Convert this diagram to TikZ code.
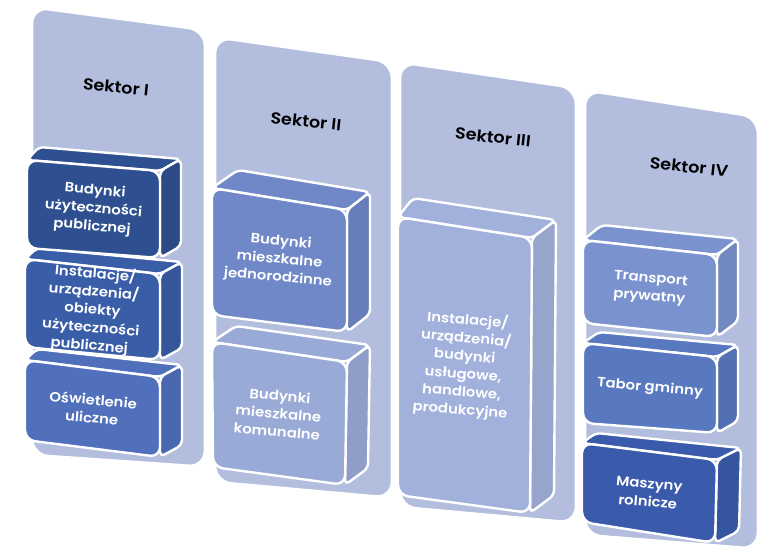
\documentclass[tikz,border=0pt]{standalone}
\usepackage{fontspec}
\setmainfont{Poppins}[BoldFont={Poppins SemiBold}, FakeStretch=1.1]
\usetikzlibrary{calc}
\definecolor{panelc}{HTML}{B3BEDF}
\definecolor{cA}{HTML}{2F5090}
\definecolor{cB}{HTML}{3A5DA8}
\definecolor{cC}{HTML}{5070BC}
\definecolor{cD}{HTML}{7088C8}
\definecolor{cE}{HTML}{9AAAD7}
\definecolor{cF}{HTML}{A2B1DC}
\definecolor{cG}{HTML}{7A92CE}
\definecolor{cH}{HTML}{5878C0}
\definecolor{cI}{HTML}{3A5BAB}
\tikzset{
  panel/.style={draw=white, line width=2.8pt, fill=panelc, rounded corners=16pt, line join=round},
  face/.style={draw=white, line width=2.4pt, rounded corners=5pt, line join=round},
  frontface/.style={draw=white, line width=2.4pt, rounded corners=10pt, line join=round},
  boxtext/.style={text=white, font=\bfseries\fontsize{13.5}{18}\selectfont, align=center, rotate=-5, inner sep=0pt},
  sectext/.style={text=black, font=\bfseries\fontsize{16}{18}\selectfont, rotate=-6, inner sep=0pt}
}
\newcommand{\cubebox}[9]{%
  \path[face, fill=#8] #2 -- ($#2+#6$) -- ($#3+#7$) -- #3 -- cycle;
  \path[face, fill=#8!93!black] #3 -- ($#3+#7$) -- ($#4+#7$) -- #4 -- cycle;
  \path[frontface, fill=#8] #2 -- #3 -- #4 -- #5 -- cycle;
  \node[boxtext] (#1) at ($#2!0.5!#4$) {#9};
}
\begin{document}
\begin{tikzpicture}[x=1pt,y=-1pt]
\path[fill=white, use as bounding box] (0,0) rectangle (762,552);
% panels
\path[panel] (32,7) -- (205,30) -- (205,467) -- (32,455) -- cycle;
\path[panel] (215,37) -- (392,62) -- (392,498) -- (215,482) -- cycle;
\path[panel] (400,62) -- (576,88) -- (576,523) -- (400,507) -- cycle;
\path[panel] (585,90) -- (758,117) -- (758,549) -- (585,535) -- cycle;
% sector titles
\node[sectext] (s1) at (116,87) {Sektor I};
\node[sectext] (s2) at (306,121) {Sektor II};
\node[sectext] (s3) at (493,137) {Sektor III};
\node[sectext] (s4) at (689,167) {Sektor IV};
% column 1
\cubebox{c1c}{(25,360)}{(160,377)}{(160,457)}{(25,440)}{(12,-11)}{(22,-12)}{cC}{Oświetlenie\\uliczne}
\cubebox{c1b}{(25,259)}{(160,274)}{(160,360)}{(25,347)}{(12,-11)}{(22,-12)}{cB}{Instalacje/\\urządzenia/\\obiekty\\użyteczności\\publicznej}
\cubebox{c1a}{(27,160)}{(160,171)}{(160,258)}{(27,248)}{(12,-13)}{(21,-12)}{cA}{Budynki\\użyteczności\\publicznej}
% column 2
\cubebox{c2b}{(212,342)}{(347,362)}{(345,485)}{(213,467)}{(24,-16)}{(23,-17)}{cE}{Budynki\\mieszkalne\\komunalne}
\cubebox{c2a}{(212,188)}{(347,210)}{(347,332)}{(212,315)}{(26,-18)}{(23,-18)}{cD}{Budynki\\mieszkalne\\jednorodzinne}
% column 3
\cubebox{c3a}{(398,217)}{(532,238)}{(530,513)}{(398,495)}{(15,-19)}{(24,-18)}{cF}{Instalacje/\\urządzenia/\\budynki\\usługowe,\\handlowe,\\produkcyjne}
% column 4
\cubebox{c4c}{(582,443)}{(717,460)}{(715,543)}{(582,522)}{(14,-10)}{(24,-12)}{cI}{Maszyny\\rolnicze}
\cubebox{c4b}{(583,343)}{(717,357)}{(717,433)}{(583,423)}{(16,-11)}{(21,-12)}{cH}{Tabor gminny}
\cubebox{c4a}{(583,240)}{(717,255)}{(717,337)}{(583,323)}{(19,-15)}{(21,-16)}{cG}{Transport\\prywatny}
\end{tikzpicture}
\end{document}
